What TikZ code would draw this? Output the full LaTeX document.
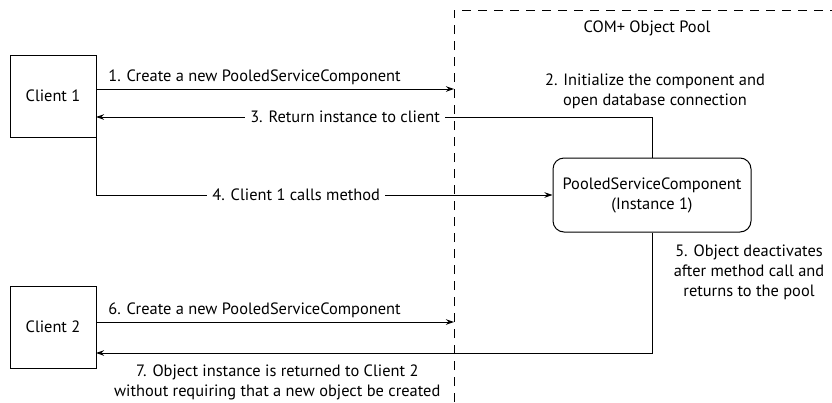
\documentclass[tikz,border=0pt]{standalone}
\usepackage{fontspec}
\setmainfont{PT Sans}
\usetikzlibrary{arrows.meta,positioning}

\begin{document}
\begin{tikzpicture}[x=1pt,y=-1pt,line width=1pt,
    every node/.style={font=\fontsize{16.4}{20}\selectfont},
    client/.style={draw,minimum width=86pt,minimum height=82pt},
    comp/.style={draw,rounded corners=11pt,minimum width=198pt,minimum height=74pt,align=center},
    msg/.style={-{Stealth[length=8pt,width=5.5pt]}},
    online/.style={fill=white,inner sep=5pt},
    pool/.style={dash pattern=on 9pt off 7pt}]
    \useasboundingbox (0,0) rectangle (832,402);

    \node[client] (c1) at (53,96) {Client 1};
    \node[client] (c2) at (53,327) {Client 2};
    \node[comp] (psc) at (652,195) {PooledServiceComponent\\(Instance 1)};

    % pool border
    \coordinate (pbl) at (454,402);
    \coordinate (ptl) at (454,10);
    \coordinate (ptr) at (832,10);
    \draw[pool] (pbl) -- (ptl) -- (ptr);
    \node (pname) at (647,28) {COM+ Object Pool};

    % client 1
    \coordinate (in1) at (454,89);
    \coordinate (back1) at (96,117);
    \draw[msg] (c1.east |- in1) -- node[pos=0,above right,xshift=8pt] {1. Create a new PooledServiceComponent} (in1);
    \node[align=center] (init) at (655,91) {2. Initialize the component and\\open database connection};
    \draw[msg] (psc.north) |- node[online,pos=0.776] {3. Return instance to client} (back1);
    \draw[msg] (c1.south east) |- node[online,pos=0.719] {4. Client 1 calls method} (psc.west);
    \node[align=center] (deact) at (749,272) {5. Object deactivates\\after method call and\\returns to the pool};

    % client 2
    \coordinate (in2) at (454,322);
    \coordinate (back2) at (96,353);
    \draw[msg] (c2.east |- in2) -- node[pos=0,above right,xshift=8pt] {6. Create a new PooledServiceComponent} (in2);
    \draw[msg] (psc.south) |- node[pos=0.837,below,yshift=-8pt,align=center] {7. Object instance is returned to Client 2\\without requiring that a new object be created} (back2);
\end{tikzpicture}
\end{document}
